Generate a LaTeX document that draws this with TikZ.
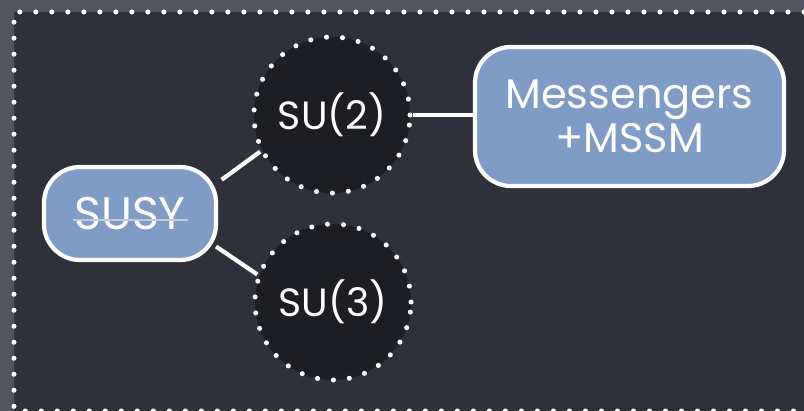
\documentclass[tikz,border=0pt]{standalone}
\usepackage{fontspec}
\setmainfont{Poppins}
\usetikzlibrary{calc}
\definecolor{slate}{HTML}{2E3139}
\definecolor{slateedge}{HTML}{51555F}
\definecolor{boxblue}{HTML}{7E9CC6}
\definecolor{blob}{HTML}{1D1E23}
\definecolor{strikegray}{HTML}{C5CAD3}
\tikzset{
  model/.style={draw=white, line width=3pt, fill=boxblue, rounded corners=0.9cm,
    text=white, inner sep=0pt, outer sep=0pt},
  group/.style={circle, draw=white, fill=blob, line width=3.6pt, line cap=round,
    dash pattern=on 0pt off 0.4cm, minimum size=3.9cm, inner sep=0pt,
    text=white, font=\fontsize{28}{30}\selectfont},
  dots/.style={white, line width=3.6pt, line cap=round, dash pattern=on 0pt off 0.4cm},
  link/.style={white, line width=3pt},
}
\begin{document}
\begin{tikzpicture}[x=0.025cm,y=-0.025cm]
\useasboundingbox (0,0) rectangle (804,411);
% slide background and dotted frame
\fill[slateedge] (0,0) rectangle (804,411);
\fill[slate] (14,12) rectangle (804,411);
\draw[dots] (804,12) -- (14,12) -- (14,411) -- (804,411);
% boxes and gauge groups
\node[model, minimum width=4.3cm, minimum height=2.325cm,
  font=\fontsize{32.5}{35}\selectfont] (susy) at (130,213.5) {SUSY};
\draw[strikegray, line width=1.6pt] ($(susy.center)+(-57,6.5)$) -- ++(115,0);
\node[group] (su2) at (332,115) {SU(2)};
\node[group] (su3) at (333,302) {SU(3)};
\node[model, minimum width=7.725cm, minimum height=3.475cm, align=center,
  font=\fontsize{29.5}{31}\selectfont] (msg) at (629.5,116.5) {Messengers\\+MSSM};
% connectors
\draw[link, shorten <=5pt] (susy.19) -- (su2.207);
\draw[link] (susy.-21) -- (su3.160);
\draw[link] (su2.east) -- (su2.east -| msg.west);
\end{tikzpicture}
\end{document}
